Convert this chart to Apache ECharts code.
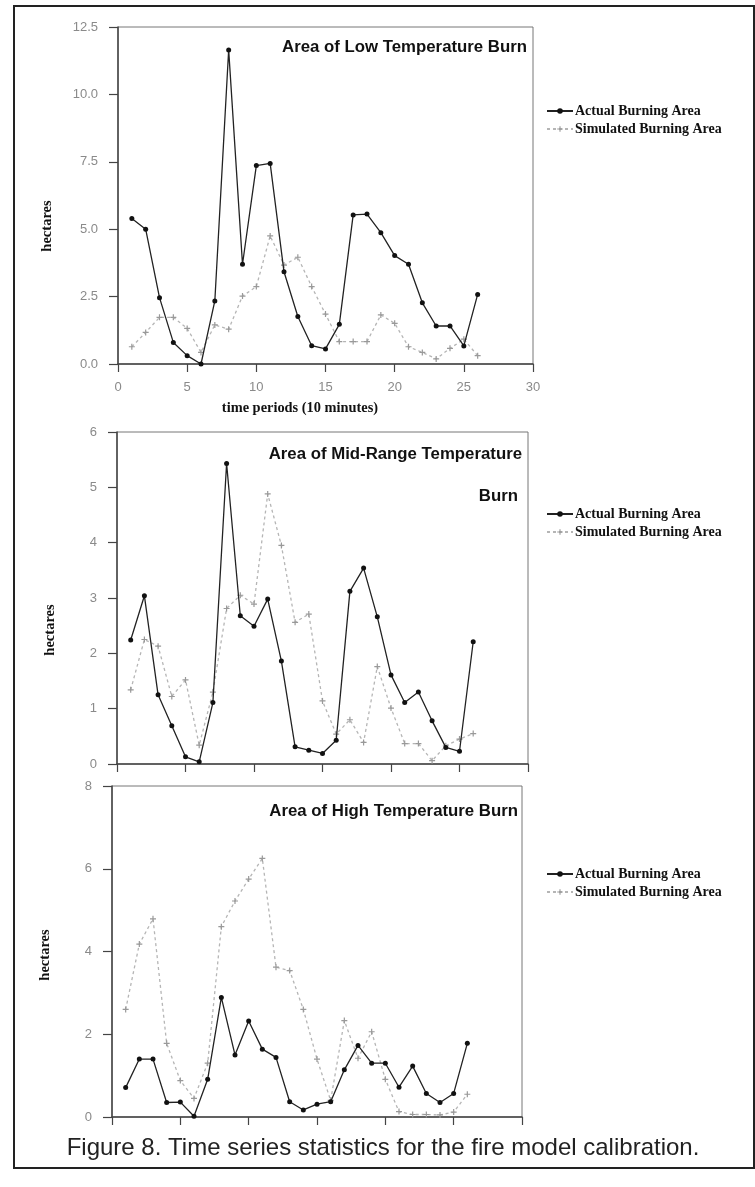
<!DOCTYPE html>
<html>
<head>
<meta charset="utf-8">
<script src="https://cdn.jsdelivr.net/npm/echarts@6/dist/echarts.min.js"></script>
<style>
  html, body { margin: 0; padding: 0; background: #fff; }
  #chart { width: 755px; height: 1187px; }
</style>
</head>
<body>
<div id="chart"></div>
<script>
// time periods (10 minutes)
const periods = [1, 2, 3, 4, 5, 6, 7, 8, 9, 10, 11, 12, 13, 14, 15, 16, 17, 18, 19, 20, 21, 22, 23, 24, 25, 26];

// Area of Low Temperature Burn
const lowActual = [5.4, 5.0, 2.46, 0.8, 0.31, 0.0, 2.34, 11.65, 3.7, 7.36, 7.44, 3.42, 1.76, 0.68, 0.56, 1.47, 5.53, 5.56, 4.87, 4.02, 3.7, 2.27, 1.41, 1.41, 0.67, 2.58];
const lowSimulated = [0.64, 1.17, 1.73, 1.73, 1.32, 0.43, 1.45, 1.29, 2.52, 2.87, 4.75, 3.67, 3.96, 2.87, 1.85, 0.83, 0.83, 0.83, 1.82, 1.51, 0.64, 0.43, 0.19, 0.58, 0.92, 0.31];

// Area of Mid-Range Temperature Burn
const midActual = [2.24, 3.04, 1.25, 0.69, 0.13, 0.04, 1.11, 5.43, 2.68, 2.49, 2.98, 1.86, 0.31, 0.25, 0.19, 0.43, 3.12, 3.54, 2.66, 1.61, 1.11, 1.3, 0.78, 0.3, 0.23, 2.21];
const midSimulated = [1.34, 2.25, 2.13, 1.22, 1.52, 0.34, 1.3, 2.81, 3.05, 2.89, 4.88, 3.95, 2.56, 2.71, 1.14, 0.54, 0.8, 0.39, 1.76, 1.01, 0.37, 0.37, 0.06, 0.33, 0.45, 0.55];

// Area of High Temperature Burn
const highActual = [0.71, 1.4, 1.4, 0.35, 0.36, 0.02, 0.91, 2.89, 1.5, 2.32, 1.64, 1.44, 0.37, 0.17, 0.31, 0.37, 1.14, 1.73, 1.3, 1.3, 0.72, 1.23, 0.57, 0.35, 0.57, 1.78];
const highSimulated = [2.6, 4.18, 4.79, 1.78, 0.88, 0.45, 1.3, 4.6, 5.22, 5.75, 6.25, 3.62, 3.54, 2.6, 1.4, 0.4, 2.33, 1.42, 2.06, 0.91, 0.13, 0.06, 0.06, 0.05, 0.12, 0.55];

const seriesNames = ['Actual Burning Area', 'Simulated Burning Area'];
const xTicks = { min: 0, max: 30, interval: 5 };

// layout of the three panels
const panels = [
  { grid: { left: 118, top: 27, width: 415, height: 337 }, yMax: 12.5, yStep: 2.5, decimals: 1, actual: lowActual, simulated: lowSimulated, showX: true, legendTop: 104 },
  { grid: { left: 117, top: 432, width: 411, height: 332 }, yMax: 6, yStep: 1, decimals: 0, actual: midActual, simulated: midSimulated, showX: false, legendTop: 507 },
  { grid: { left: 112, top: 786, width: 410, height: 331 }, yMax: 8, yStep: 2, decimals: 0, actual: highActual, simulated: highSimulated, showX: false, legendTop: 867 },
];

const axisColor = '#444';
const labelColor = '#8a8a8a';
const sansFont = '"Liberation Sans", Arial, sans-serif';
const serifFont = '"Liberation Serif", "Times New Roman", serif';
const plusIcon = 'path://M2,0H3V2H5V3H3V5H2V3H0V2H2Z';

const toPairs = (arr) => periods.map((p, i) => [p, arr[i]]);

const chart = echarts.init(document.getElementById('chart'));

const option = {
  backgroundColor: '#fff',
  animation: false,
  grid: panels.map(p => ({
    left: p.grid.left, top: p.grid.top, width: p.grid.width, height: p.grid.height,
    show: true, borderColor: '#777', borderWidth: 1, backgroundColor: 'transparent',
  })),
  xAxis: panels.map((p, i) => ({
    type: 'value', gridIndex: i,
    min: xTicks.min, max: xTicks.max, interval: xTicks.interval,
    axisLine: { show: true, onZero: false, lineStyle: { color: axisColor, width: 1.5 } },
    axisTick: { show: true, inside: false, length: 8, lineStyle: { color: axisColor, width: 1.2 } },
    axisLabel: { show: p.showX, color: labelColor, fontFamily: sansFont, fontSize: 13, margin: 17 },
    splitLine: { show: false },
  })),
  yAxis: panels.map((p, i) => ({
    type: 'value', gridIndex: i,
    min: 0, max: p.yMax, interval: p.yStep,
    axisLine: { show: true, lineStyle: { color: axisColor, width: 1.5 } },
    axisTick: { show: true, length: 9, lineStyle: { color: axisColor, width: 1.2 } },
    axisLabel: {
      color: labelColor, fontFamily: sansFont, fontSize: 13, margin: 20,
      formatter: v => v.toFixed(p.decimals),
    },
    splitLine: { show: false },
  })),
  legend: panels.map(p => ({
    data: seriesNames,
    orient: 'vertical',
    left: 546,
    top: p.legendTop,
    padding: 0,
    itemWidth: 26,
    itemHeight: 7,
    itemGap: 4,
    textStyle: { color: '#111', fontFamily: serifFont, fontWeight: 'bold', fontSize: 14, padding: [0, 0, 0, -3] },
  })),
  title: [
    { text: 'Area of Low Temperature Burn', right: 228, top: 39 },
    { text: 'Area of Mid-Range Temperature', right: 233, top: 446 },
    { text: 'Burn', right: 237, top: 488 },
    { text: 'Area of High Temperature Burn', right: 237, top: 803 },
  ].map(t => Object.assign(t, {
    padding: 0,
    textStyle: { fontFamily: sansFont, fontWeight: 'bold', fontSize: 16.8, color: '#111' },
  })),
  graphic: [
    // outer frame of the figure
    { type: 'rect', shape: { x: 14, y: 6, width: 740, height: 1162 }, style: { fill: 'none', stroke: '#222', lineWidth: 2 }, silent: true },
    { type: 'text', x: 47, y: 226, rotation: Math.PI / 2, style: { text: 'hectares', fill: '#111', font: 'bold 14.5px ' + serifFont, align: 'center', verticalAlign: 'middle' } },
    { type: 'text', x: 50, y: 630, rotation: Math.PI / 2, style: { text: 'hectares', fill: '#111', font: 'bold 14.5px ' + serifFont, align: 'center', verticalAlign: 'middle' } },
    { type: 'text', x: 45, y: 955, rotation: Math.PI / 2, style: { text: 'hectares', fill: '#111', font: 'bold 14.5px ' + serifFont, align: 'center', verticalAlign: 'middle' } },
    { type: 'text', x: 300, y: 408, style: { text: 'time periods (10 minutes)', fill: '#111', font: 'bold 14.4px ' + serifFont, align: 'center', verticalAlign: 'middle' } },
    { type: 'text', x: 383, y: 1148, style: { text: 'Figure 8. Time series statistics for the fire model calibration.', fill: '#222', font: '24px ' + sansFont, align: 'center', verticalAlign: 'middle' } },
  ],
  series: panels.flatMap((p, i) => [
    {
      name: seriesNames[1], type: 'line', xAxisIndex: i, yAxisIndex: i,
      data: toPairs(p.simulated),
      symbol: plusIcon, symbolSize: 6,
      itemStyle: { color: '#999' },
      lineStyle: { color: '#b5b5b5', width: 1.3, type: [3, 3] },
      z: 2,
    },
    {
      name: seriesNames[0], type: 'line', xAxisIndex: i, yAxisIndex: i,
      data: toPairs(p.actual),
      symbol: 'circle', symbolSize: 5,
      itemStyle: { color: '#111' },
      lineStyle: { color: '#222', width: 1.3 },
      z: 3,
    },
  ]),
};

chart.setOption(option);
</script>
</body>
</html>
